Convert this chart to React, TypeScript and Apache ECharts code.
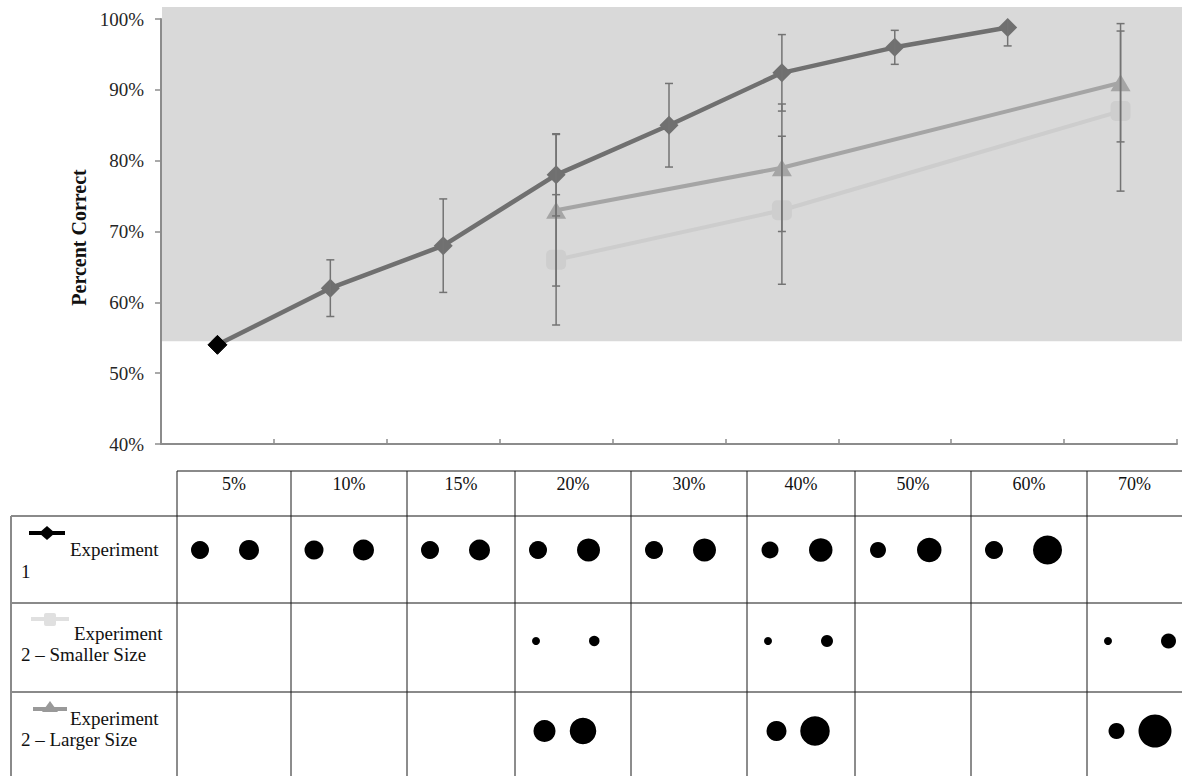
import React, { useEffect, useRef } from "react";
import * as echarts from "echarts";

// ---------- data ----------
const categories = ["5%", "10%", "15%", "20%", "30%", "40%", "50%", "60%", "70%"];
const exp1Values = [54, 62, 68, 78, 85, 92.4, 96, 98.8, null];
const exp1Err = [null, 4, 6.6, 5.8, 5.9, 5.4, 2.4, 2.6, null];
const exp2SmallValues = [null, null, null, 66, null, 73, null, null, 87];
const exp2SmallErr = [null, null, null, 9.2, null, 10.45, null, null, 11.3];
const exp2LargeValues = [null, null, null, 73, null, 79, null, null, 91];
const exp2LargeErr = [null, null, null, 10.7, null, 9, null, null, 8.35];
const yTickMin = 40;
const yTickMax = 100;
const yTickStep = 10;
const shadeRange = [54.5, 101.7];

// stimulus dot diameters (px) shown in the table, small / large per cell
const exp1SmallDot = [18, 19, 18, 18, 18, 17, 16, 18, null];
const exp1LargeDot = [20, 21, 21, 23, 23, 23.5, 24.5, 29, null];
const exp2SmallSmallDot = [null, null, null, 8, null, 8, null, null, 8];
const exp2SmallLargeDot = [null, null, null, 10.5, null, 12, null, null, 15];
const exp2LargeSmallDot = [null, null, null, 22, null, 20, null, null, 16];
const exp2LargeLargeDot = [null, null, null, 26.5, null, 29.5, null, null, 33];

const rowLabels = [
  ["Experiment", "1"],
  ["Experiment", "2 \u2013 Smaller Size"],
  ["Experiment", "2 \u2013 Larger Size"],
];

// ---------- layout ----------
const W = 1182;
const H = 776;
const SERIF = '"Liberation Serif", "Times New Roman", serif';
const colEdges = [177, 291, 407, 515, 631, 747, 855, 971, 1087, 1182];
const tableTop = 471;
const rowLines = [516, 603, 692];
const tableLeft = 11;

const errData = (vals: (number | null)[], errs: (number | null)[]) =>
  vals
    .map((v, i) => (v != null && errs[i] != null ? [i, v - (errs[i] as number), v + (errs[i] as number)] : null))
    .filter((d) => d != null);

const errorSeries = (data: any[]) => ({
  type: "custom",
  z: 10,
  clip: true,
  data,
  encode: { x: 0, y: [1, 2] },
  renderItem: (params: any, api: any) => {
    const x = api.value(0);
    const lo = api.coord([x, api.value(1)]);
    const hi = api.coord([x, api.value(2)]);
    const style = { stroke: "#737373", lineWidth: 1.5, fill: "none" };
    const hw = 4;
    return {
      type: "group",
      children: [
        { type: "line", shape: { x1: lo[0], y1: lo[1], x2: hi[0], y2: hi[1] }, style },
        { type: "line", shape: { x1: lo[0] - hw, y1: lo[1], x2: lo[0] + hw, y2: lo[1] }, style },
        { type: "line", shape: { x1: hi[0] - hw, y1: hi[1], x2: hi[0] + hw, y2: hi[1] }, style },
      ],
    };
  },
});

function buildTable(): any[] {
  const els: any[] = [];
  const grayLine = { stroke: "#8a8a8a", lineWidth: 2 };
  const blackLine = { stroke: "#1a1a1a", lineWidth: 1 };
  // horizontal lines
  els.push({ type: "line", shape: { x1: colEdges[0], y1: tableTop, x2: W, y2: tableTop }, style: grayLine, z: 5 });
  rowLines.forEach((y) =>
    els.push({ type: "line", shape: { x1: tableLeft, y1: y, x2: W, y2: y }, style: grayLine, z: 5 })
  );
  // vertical lines
  els.push({ type: "line", shape: { x1: tableLeft, y1: rowLines[0], x2: tableLeft, y2: H }, style: grayLine, z: 5 });
  colEdges.slice(0, 9).forEach((x) =>
    els.push({ type: "line", shape: { x1: x, y1: tableTop, x2: x, y2: H }, style: blackLine, z: 5 })
  );
  // header texts
  categories.forEach((c, i) => {
    els.push({
      type: "text",
      z: 6,
      style: {
        text: c,
        x: (colEdges[i] + colEdges[i + 1]) / 2,
        y: 484,
        font: `18px ${SERIF}`,
        fill: "#111",
        align: "center",
        verticalAlign: "middle",
      },
    });
  });
  // row labels
  const labelPos = [
    { ex: 70, ey: 549, sy: 571 },
    { ex: 74, ey: 633, sy: 654 },
    { ex: 70, ey: 718, sy: 739 },
  ];
  rowLabels.forEach((lab, r) => {
    els.push({
      type: "text",
      z: 6,
      style: { text: lab[0], x: labelPos[r].ex, y: labelPos[r].ey, font: `19px ${SERIF}`, fill: "#111", verticalAlign: "middle" },
    });
    els.push({
      type: "text",
      z: 6,
      style: { text: lab[1], x: 21, y: labelPos[r].sy, font: `19px ${SERIF}`, fill: "#111", verticalAlign: "middle" },
    });
  });
  // legend icons
  els.push({ type: "line", z: 6, shape: { x1: 29, y1: 533, x2: 65, y2: 533 }, style: { stroke: "#000", lineWidth: 4 } });
  els.push({ type: "polygon", z: 6, shape: { points: [[47, 526], [55, 533], [47, 540], [39, 533]] }, style: { fill: "#000" } });
  els.push({ type: "line", z: 6, shape: { x1: 31, y1: 619, x2: 69, y2: 619 }, style: { stroke: "#e0e0e0", lineWidth: 4 } });
  els.push({ type: "rect", z: 6, shape: { x: 44, y: 613, width: 12, height: 13, r: 2 }, style: { fill: "#e0e0e0" } });
  els.push({ type: "line", z: 6, shape: { x1: 33, y1: 709, x2: 67, y2: 709 }, style: { stroke: "#999", lineWidth: 4 } });
  els.push({ type: "polygon", z: 6, shape: { points: [[50, 701], [58, 712], [42, 712]] }, style: { fill: "#999" } });

  // dots
  const rows = [
    { small: exp1SmallDot, large: exp1LargeDot, cy: 550, sOff: 23, lOff: 62, lByR: true },
    { small: exp2SmallSmallDot, large: exp2SmallLargeDot, cy: 641, sOff: 21, lOff: 74, lByR: true },
    { small: exp2LargeSmallDot, large: exp2LargeLargeDot, cy: 731, sOff: 29.5, lOff: 68, lByR: false },
  ];
  rows.forEach((row) => {
    categories.forEach((_, i) => {
      const left = colEdges[i];
      const s = row.small[i];
      const l = row.large[i];
      if (s != null) {
        els.push({ type: "circle", z: 6, shape: { cx: left + row.sOff, cy: row.cy, r: s / 2 }, style: { fill: "#000" } });
      }
      if (l != null) {
        const cx = row.lByR ? left + row.lOff + l / 2 : left + row.lOff;
        els.push({ type: "circle", z: 6, shape: { cx, cy: row.cy, r: l / 2 }, style: { fill: "#000" } });
      }
    });
  });
  return els;
}

export default function App() {
  const ref = useRef<HTMLDivElement>(null);
  useEffect(() => {
    document.body.style.margin = "0";
    const chart = echarts.init(ref.current as HTMLDivElement, null, { renderer: "svg" });
    const exp1Data = exp1Values.map((v, i) =>
      i === 0 ? { value: v, itemStyle: { color: "#000", borderColor: "#000" } } : v
    );
    const option: any = {
      animation: false,
      backgroundColor: "#fff",
      grid: { left: 161, right: 5, top: 19, bottom: 332, containLabel: false },
      xAxis: {
        type: "category",
        data: categories,
        boundaryGap: true,
        axisLine: { lineStyle: { color: "#8c8c8c", width: 2 } },
        axisTick: { show: true, inside: true, length: 5, lineStyle: { color: "#8c8c8c", width: 1.5 } },
        axisLabel: { show: false },
        splitLine: { show: false },
      },
      yAxis: {
        type: "value",
        min: yTickMin,
        max: yTickMax,
        interval: yTickStep,
        name: "Percent Correct",
        nameLocation: "middle",
        nameGap: 70,
        nameTextStyle: { fontFamily: SERIF, fontWeight: "bold", fontSize: 20, color: "#111", padding: [0, 12, 0, 0] },
        axisLine: { show: true, lineStyle: { color: "#8c8c8c", width: 2 } },
        axisTick: { show: true, length: 6, lineStyle: { color: "#8c8c8c", width: 1.5 } },
        axisLabel: { formatter: "{value}%", fontFamily: SERIF, fontSize: 19, color: "#262626", margin: 17 },
        splitLine: { show: false },
      },
      series: [
        {
          name: "Experiment 2 \u2013 Smaller Size",
          type: "line",
          data: exp2SmallValues,
          connectNulls: true,
          z: 3,
          symbol: "roundRect",
          symbolSize: 20,
          lineStyle: { color: "#cdcdcd", width: 4 },
          itemStyle: { color: "#cecece" },
        },
        {
          name: "Experiment 2 \u2013 Larger Size",
          type: "line",
          data: exp2LargeValues,
          connectNulls: true,
          z: 4,
          symbol: "triangle",
          symbolSize: [20, 17],
          lineStyle: { color: "#a5a5a5", width: 4 },
          itemStyle: { color: "#a5a5a5" },
        },
        {
          name: "Experiment 1",
          type: "line",
          data: exp1Data,
          z: 5,
          symbol: "diamond",
          symbolSize: 19,
          lineStyle: { color: "#707070", width: 4.5 },
          itemStyle: { color: "#707070" },
        },
        errorSeries(errData(exp1Values, exp1Err)),
        errorSeries(errData(exp2LargeValues, exp2LargeErr)),
        errorSeries(errData(exp2SmallValues, exp2SmallErr)),
      ],
    };
    chart.setOption(option);
    const yHi = chart.convertToPixel({ yAxisIndex: 0 }, shadeRange[1]) as number;
    const yLo = chart.convertToPixel({ yAxisIndex: 0 }, shadeRange[0]) as number;
    const xLeft = chart.convertToPixel({ xAxisIndex: 0 }, categories[0]) as number;
    const bandHalf = (chart.convertToPixel({ xAxisIndex: 0 }, categories[1]) as number) - xLeft;
    const gridLeft = xLeft - bandHalf / 2;
    chart.setOption({
      graphic: [
        {
          type: "rect",
          z: -1,
          shape: { x: gridLeft + 1, y: yHi, width: W - gridLeft - 1, height: yLo - yHi },
          style: { fill: "#d9d9d9" },
        },
        ...buildTable(),
      ],
    });
    return () => chart.dispose();
  }, []);
  return <div ref={ref} style={{ width: W, height: H }} />;
}
